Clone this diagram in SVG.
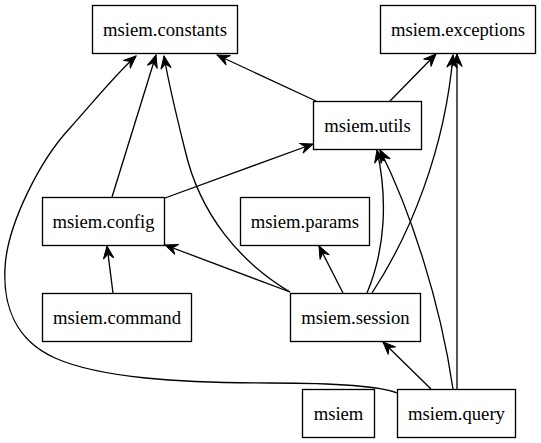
<svg xmlns="http://www.w3.org/2000/svg" width="541" height="443" viewBox="0 0 541 443">
<style>
.n rect{fill:#fff;stroke:#000;stroke-width:1.33}
.n text{font-family:"Liberation Serif","Times New Roman",serif;font-size:18.67px;text-anchor:middle;fill:#000}
.e path{fill:none;stroke:#000;stroke-width:1.33;marker-end:url(#ah)}
</style>
<defs>
<marker id="ah" viewBox="-14 -7 15 14" refX="0" refY="0" markerWidth="15" markerHeight="14" markerUnits="userSpaceOnUse" orient="auto">
<path d="M0,0 L-12.5,-5.2 L-8,0 L-12.5,5.2 Z" fill="#000" stroke="#000" stroke-width="1"/>
</marker>
</defs>
<rect width="541" height="443" fill="#fff"/>
<g id="edges" class="e">
<path d="M316,101 L217,55"/>
<path d="M390,101 L436,54"/>
<path d="M165,198 L313,144"/>
<path d="M112,197 L156,55"/>
<path d="M113,293 L107,246"/>
<path d="M290,292 L165,245"/>
<path d="M290,292 C240,262 200,215 185,150 C175,110 168,80 164,56"/>
<path d="M343,293 L319,246"/>
<path d="M367,293 C385,250 388,200 377,150"/>
<path d="M372,293 C410,235 445,150 453,55"/>
<path d="M431,389 L383,342"/>
<path d="M453,389 C440,300 410,210 380,150"/>
<path d="M457,389 L457,54"/>
<path d="M397,393 C380,386 330,383 270,383 C180,383 100,378 55,358 C15,340 3,305 5,268 C7,225 40,160 70,128 C95,100 115,75 136,56"/>
</g>
<g id="constants" class="n"><rect x="92.5" y="5.5" width="145" height="48"/><text x="165" y="36">msiem.constants</text></g>
<g id="exceptions" class="n"><rect x="380.5" y="5.5" width="155" height="48"/><text x="458" y="36">msiem.exceptions</text></g>
<g id="utils" class="n"><rect x="313.5" y="101.5" width="108" height="48"/><text x="367.5" y="132">msiem.utils</text></g>
<g id="config" class="n"><rect x="42.5" y="197.5" width="122" height="48"/><text x="103.5" y="228">msiem.config</text></g>
<g id="params" class="n"><rect x="240.5" y="197.5" width="129" height="48"/><text x="305" y="228">msiem.params</text></g>
<g id="command" class="n"><rect x="42.5" y="293.5" width="149" height="48"/><text x="117" y="324">msiem.command</text></g>
<g id="session" class="n"><rect x="290.5" y="293.5" width="130" height="48"/><text x="355.5" y="324">msiem.session</text></g>
<g id="msiem" class="n"><rect x="302.5" y="389.5" width="72" height="48"/><text x="338.5" y="420">msiem</text></g>
<g id="query" class="n"><rect x="397.5" y="389.5" width="118" height="48"/><text x="456.5" y="420">msiem.query</text></g>
</svg>
